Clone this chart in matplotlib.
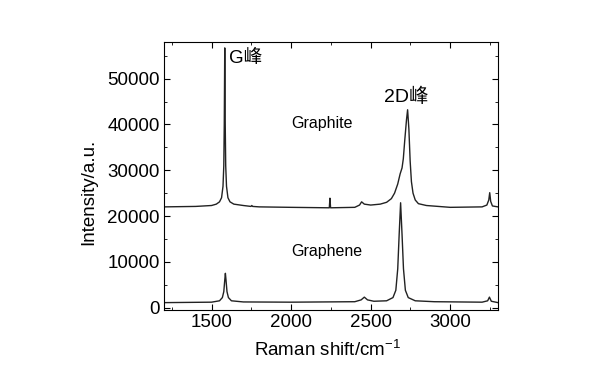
import matplotlib
matplotlib.use('Agg')
from matplotlib import rcParams
import matplotlib.pyplot as plt
from matplotlib.ticker import MultipleLocator

rcParams['font.family'] = ['Liberation Sans', 'Noto Sans CJK SC', 'DejaVu Sans']
rcParams['mathtext.default'] = 'regular'
rcParams['font.size'] = 13

# spectra
graphite_x = [1200, 1400, 1500, 1530, 1550, 1563, 1572, 1577, 1580, 1583, 1586, 1589, 1594,
              1603, 1616, 1640, 1700, 1748, 1753, 1758, 1800, 2000, 2240, 2244, 2248, 2400,
              2430, 2443, 2460, 2500, 2560, 2600, 2630, 2650, 2670, 2685, 2697, 2705, 2714,
              2725, 2732, 2740, 2748, 2756, 2766, 2780, 2800, 2850, 3000, 3200, 3230, 3242,
              3248, 3254, 3265, 3300]
graphite_y = [22000, 22100, 22300, 22600, 23100, 24000, 26500, 31000, 40000, 56700, 40000, 31000, 26500,
              24000, 23100, 22600, 22300, 22100, 22300, 22100, 22000, 21900, 21800, 23900, 21800, 21900,
              22400, 23100, 22600, 22400, 22600, 23000, 23800, 25000, 27000, 29200, 30500, 32500, 36500,
              41000, 43200, 39000, 32000, 27500, 25000, 23500, 22700, 22300, 21900, 22000, 22400, 23500,
              25100, 23200, 22200, 22000]

graphene_x = [1200, 1500, 1550, 1568, 1577, 1583, 1587, 1591, 1597, 1606, 1625, 1700, 2000,
              2400, 2440, 2460, 2480, 2520, 2600, 2640, 2658, 2670, 2679, 2688, 2697, 2706,
              2718, 2736, 2780, 2900, 3200, 3235, 3246, 3258, 3300]
graphene_y = [1100, 1200, 1500, 2200, 3500, 6000, 7500, 6000, 3500, 2200, 1500, 1250, 1200,
              1300, 1700, 2300, 1700, 1400, 1500, 2200, 3800, 8500, 16000, 22900, 16000, 8500,
              3800, 2200, 1500, 1300, 1200, 1500, 2300, 1400, 1100]

fig = plt.figure(figsize=(6, 3.78), dpi=100)
ax = fig.add_axes([0.273, 0.18, 0.557, 0.709])

ax.plot(graphite_x, graphite_y, color='#222222', lw=1.0)
ax.plot(graphene_x, graphene_y, color='#222222', lw=1.0)

ax.set_xlim(1200, 3300)
ax.set_ylim(-500, 58000)
ax.xaxis.set_major_locator(MultipleLocator(500))
ax.xaxis.set_minor_locator(MultipleLocator(250))
ax.yaxis.set_major_locator(MultipleLocator(10000))
ax.yaxis.set_minor_locator(MultipleLocator(5000))
ax.tick_params(which='both', direction='in', top=True, right=True, labelsize=13.5, pad=3)
ax.tick_params(which='major', length=4)
ax.tick_params(which='minor', length=2.5)

ax.set_xlabel('Raman shift/cm$^{-1}$', fontsize=13.5)
ax.set_ylabel('Intensity/a.u.', fontsize=13.5)
ax.xaxis.set_label_coords(0.49, -0.11)
ax.yaxis.set_label_coords(-0.2, 0.44)

ax.text(1610, 54500, 'G峰', fontsize=13.5, va='center')
ax.text(2725, 46000, '2D峰', fontsize=14, va='center', ha='center')
ax.text(2000, 40300, 'Graphite', fontsize=11.5, va='center')
ax.text(2000, 12200, 'Graphene', fontsize=11.5, va='center')

fig.savefig('out.png')
